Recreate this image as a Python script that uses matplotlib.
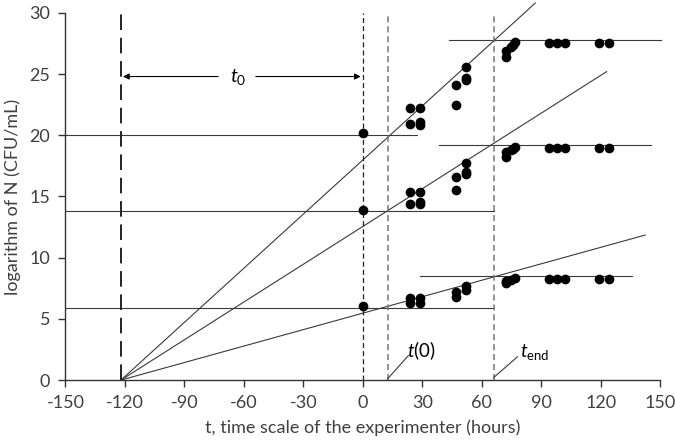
import matplotlib
matplotlib.use('Agg')
import matplotlib.pyplot as plt

plt.rcParams['font.family'] = ['Lato', 'DejaVu Sans']
plt.rcParams['mathtext.fontset'] = 'custom'
plt.rcParams['mathtext.rm'] = 'Lato'
plt.rcParams['mathtext.it'] = 'Lato:italic'
plt.rcParams['axes.unicode_minus'] = False

# observed points (time in hours, log N)
top_t = [0, 24, 24, 29, 29, 29, 47, 47, 52, 52, 52, 72, 72, 75, 76, 77, 94, 98, 102, 119, 124]
top_n = [20.2, 22.2, 20.9, 22.2, 21.1, 20.8, 24.1, 22.5, 25.6, 24.7, 24.5,
         26.9, 26.4, 27.2, 27.4, 27.6, 27.5, 27.5, 27.5, 27.5, 27.5]

mid_t = [0, 24, 24, 29, 29, 29, 47, 47, 52, 52, 52, 72, 72, 75, 76, 77, 94, 98, 102, 119, 124]
mid_n = [13.9, 15.4, 14.4, 15.4, 14.55, 14.35, 16.6, 15.5, 17.7, 17.0, 16.8,
         18.65, 18.2, 18.8, 18.9, 19.05, 19.0, 19.0, 19.0, 19.0, 19.0]

low_t = [0, 24, 24, 29, 29, 47, 47, 52, 52, 72, 72, 75, 77, 94, 98, 102, 119, 124]
low_n = [6.05, 6.7, 6.3, 6.7, 6.3, 7.2, 6.8, 7.7, 7.35, 7.9, 8.1, 8.2, 8.3,
         8.25, 8.25, 8.25, 8.25, 8.25]

# lag origin and characteristic times
t_lag = -122
t_zero = 12.5
t_end = 66

# growth lines from (t_lag, 0) to these end points
line_end_t = [142.5, 123, 87]
line_end_n = [11.85, 25.2, 30.8]

# initial levels (left) and final levels (right)
n_init = [5.9, 13.8, 20.0]
init_end_t = [66, 66, 27.5]
n_final = [8.5, 19.2, 27.8]
final_start_t = [29, 38.5, 43.5]
final_end_t = [136, 145.5, 150.5]

fig = plt.figure(figsize=(6.75, 4.44), dpi=100)
ax = fig.add_axes([0.097, 0.144, 0.881, 0.827])

lc = '#3a3a3a'
for te, ne in zip(line_end_t, line_end_n):
    ax.plot([t_lag, te], [0, ne], color=lc, lw=0.8, clip_on=False)
for n, te in zip(n_init, init_end_t):
    ax.plot([-150, te], [n, n], color=lc, lw=0.8)
for n, ts, te in zip(n_final, final_start_t, final_end_t):
    ax.plot([ts, te], [n, n], color=lc, lw=0.8, clip_on=False)

ax.plot([t_lag, t_lag], [0, 30], color='#222222', lw=1.4, dashes=(8, 4))
ax.plot([0, 0], [0, 30], color='#222222', lw=0.9, dashes=(4, 2.5))
ax.plot([t_zero, t_zero], [0, 30], color='#777777', lw=1.1, dashes=(4, 2.5))
ax.plot([t_end, t_end], [0, 30], color='#777777', lw=1.1, dashes=(4, 2.5))

for tt, nn in [(top_t, top_n), (mid_t, mid_n), (low_t, low_n)]:
    ax.plot(tt, nn, 'o', color='black', ms=7, mec='none', zorder=5)

# t0 arrow
arr = dict(arrowstyle='-|>', color='black', lw=0.8, mutation_scale=9, shrinkA=0, shrinkB=0)
ax.annotate('', xy=(t_lag + 1, 24.8), xytext=(-73, 24.8), arrowprops=arr)
ax.annotate('', xy=(-1, 24.8), xytext=(-54, 24.8), arrowprops=arr)
ax.text(-63, 24.8, r'$t_0$', fontsize=14, ha='center', va='center')

# t(0) and t_end labels
ax.plot([t_zero, 23], [0.1, 2.0], color=lc, lw=0.8)
ax.text(22.5, 1.5, r'$t$(0)', fontsize=13.5, ha='left', va='bottom')
ax.plot([t_end, 78], [0.2, 1.9], color=lc, lw=0.8)
ax.text(79.5, 1.5, r'$t_{\mathrm{end}}$', fontsize=13.5, ha='left', va='bottom')

ax.set_xlim(-150, 150)
ax.set_ylim(0, 30)
ax.set_xticks(range(-150, 151, 30))
ax.set_yticks(range(0, 31, 5))
ax.spines['top'].set_visible(False)
ax.spines['right'].set_visible(False)
for s in ['left', 'bottom']:
    ax.spines[s].set_color('#333333')
    ax.spines[s].set_linewidth(1.0)
ax.tick_params(direction='out', length=5, width=1, color='#333333', pad=6,
               labelsize=13, labelcolor='#404040')
ax.set_xlabel('t, time scale of the experimenter (hours)', fontsize=13, color='#404040', labelpad=6)
ax.set_ylabel('logarithm of N (CFU/mL)', fontsize=13, color='#404040', labelpad=6)

fig.savefig('out.png', dpi=100)
